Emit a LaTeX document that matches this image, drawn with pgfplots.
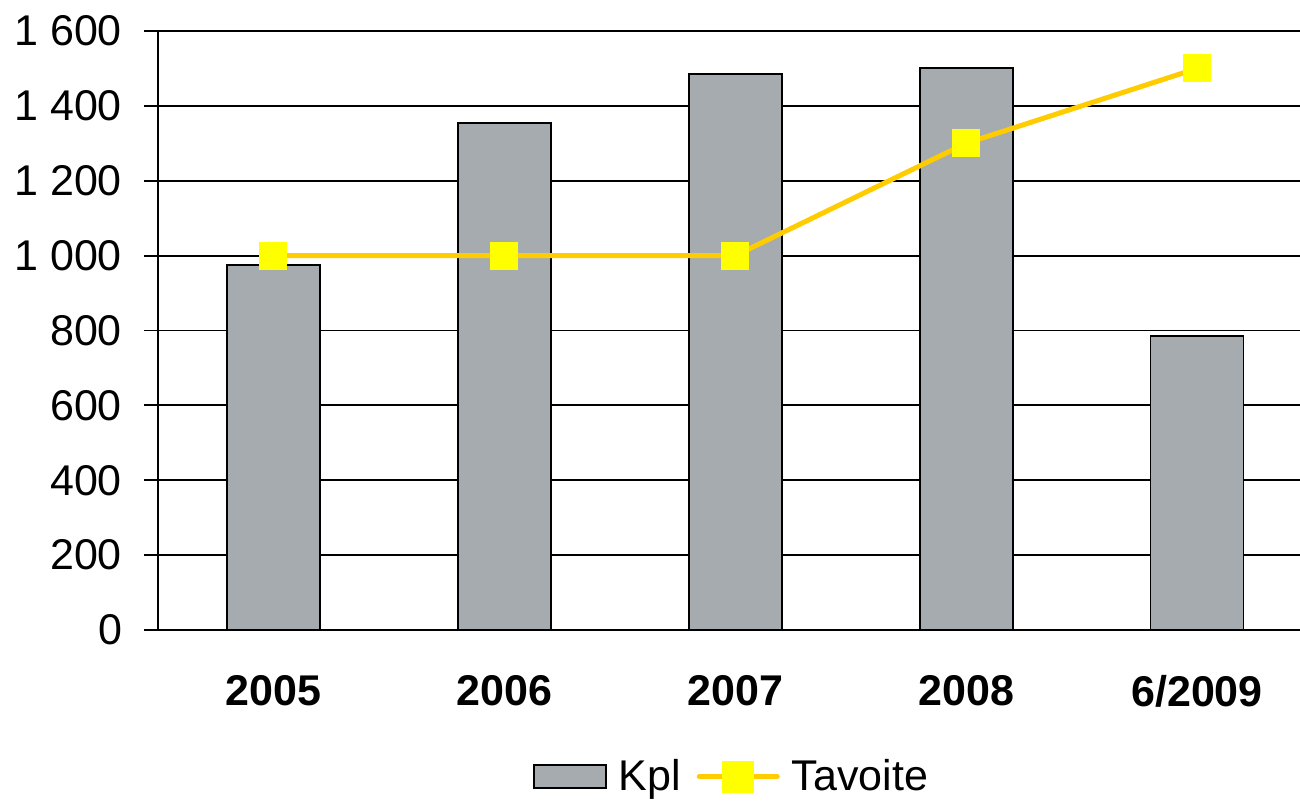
\documentclass[border=0pt]{standalone}
\usepackage{pgfplots}
\pgfplotsset{compat=1.18}
\usepackage{fontspec}
\setmainfont{Liberation Sans}
\definecolor{bargrey}{RGB}{165,171,174}
\definecolor{lineyel}{RGB}{255,204,0}
\definecolor{markyel}{RGB}{255,255,0}
\begin{document}
\begin{tikzpicture}
\begin{axis}[
  at={(0,0)}, anchor=south west,
  scale only axis,
  width=571pt, height=299.5pt,
  xmin=-0.5, xmax=4.446,
  ymin=0, ymax=1600,
  axis x line*=bottom, axis y line*=left,
  axis line style={black, line width=0.9pt},
  xtick={0,1,2,3,4},
  xticklabels={2005,2006,2007,2008,6/2009},
  x tick style={draw=none},
  extra x ticks={-0.5,0.5,1.5,2.5,3.5},
  extra x tick labels={},
  extra x tick style={major tick length=6.5pt, tick align=outside, tick style={black, line width=0.9pt}, grid=none},
  ytick={0,200,...,1600},
  yticklabels={0,200,400,600,800,{1 000},{1 200},{1 400},{1 600}},
  ytick align=outside,
  y tick style={black, line width=0.9pt},
  major tick length=7pt,
  ymajorgrids,
  major grid style={black, line width=0.9pt},
  tick label style={font=\fontsize{21.5}{25}\selectfont},
  yticklabel style={xshift=-7.5pt},
  xticklabel style={font=\fontsize{21.5}{25}\selectfont\bfseries, yshift=-19pt},
  legend style={at={(0.503,-0.245)}, anchor=center, draw=none, legend columns=2,
    font=\fontsize{21.5}{25}\selectfont, column sep=4pt,
    /tikz/every even column/.append style={column sep=6pt}},
  clip=false,
]
\addplot[ybar, bar width=46.5pt, fill=bargrey, draw=black, line width=0.9pt,
  legend image code/.code={\draw[fill=bargrey, draw=black, line width=0.9pt] (0pt,-5.75pt) rectangle (36pt,5.75pt);}]
  coordinates {(0,975) (1,1354) (2,1485) (3,1501) (4,785)};
\addlegendentry{Kpl}
\addplot[sharp plot, draw=lineyel, line width=2.5pt, mark=square*, mark size=6.75pt,
  mark options={fill=markyel, draw=markyel, line width=0pt},
  legend image code/.code={\draw[lineyel, line width=2.5pt, line cap=round] (0pt,0pt) -- (39pt,0pt);
    \fill[markyel] (12.75pt,-6.75pt) rectangle (26.25pt,6.75pt);}]
  coordinates {(0,1000) (1,1000) (2,1000) (3,1300) (4,1500)};
\addlegendentry{Tavoite}
\end{axis}
\pgfresetboundingbox
\useasboundingbox (-79pt,-85pt) rectangle (571pt,315pt);
\end{tikzpicture}
\end{document}
